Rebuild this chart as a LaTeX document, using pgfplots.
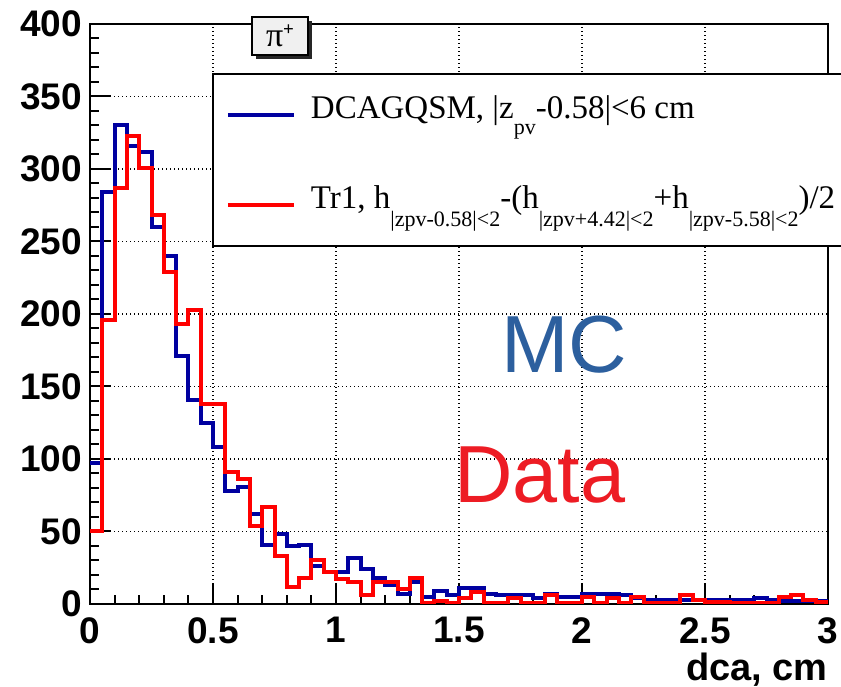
\documentclass[border=0pt]{standalone}
\usepackage{fontspec}
\setmainfont{Liberation Serif}
\setsansfont{Liberation Sans}
\usepackage{pgfplots}
\pgfplotsset{compat=1.18}
\usepackage{pgfplotstable}

\definecolor{histblue}{RGB}{0,0,160}
\definecolor{histred}{RGB}{255,0,0}
\definecolor{mcblue}{RGB}{44,95,158}
\definecolor{datared}{RGB}{237,28,36}

\pgfplotstableread{
x blue red
0.00 97 50
0.05 284 196
0.10 330 287
0.15 316 323
0.20 312 301
0.25 260 268
0.30 240 229
0.35 171 193
0.40 141 203
0.45 125 138
0.50 108 138
0.55 78 91
0.60 81 86
0.65 62 54
0.70 41 67
0.75 48 33
0.80 40 12
0.85 41 18
0.90 26 30
0.95 22 22
1.00 22 17
1.05 32 15
1.10 24 6
1.15 18 15
1.20 13 15
1.25 7 10
1.30 15 18
1.35 5 1
1.40 9 2
1.45 6 1
1.50 11 4
1.55 11 8
1.60 7 1
1.65 6 1
1.70 6 4
1.75 6 1
1.80 4 1
1.85 7 6
1.90 5 1
1.95 5 1
2.00 7 5
2.05 7 0.5
2.10 7 4
2.15 6 0.5
2.20 4 5
2.25 3 0.5
2.30 3 0.5
2.35 3 0.5
2.40 3 6.5
2.45 3 2.5
2.50 3 1.5
2.55 3 1.5
2.60 2.5 1
2.65 2.5 1
2.70 4 1
2.75 3 1
2.80 2 4.5
2.85 2 6.5
2.90 2 3
2.95 2 1.5
3.00 2 1.5
}\histdata

\newcommand{\lsub}[2]{\raisebox{-#1}{\fontsize{22}{22}\selectfont #2}}

\begin{document}
\begin{tikzpicture}[x=1pt,y=1pt]
\useasboundingbox (0,0) rectangle (841,687);
\begin{axis}[
  at={(90pt,83pt)}, anchor=south west, scale only axis,
  width=738pt, height=580pt,
  xmin=0, xmax=3, ymin=0, ymax=400,
  xtick={0,0.5,1,1.5,2,2.5,3}, ytick={0,50,...,400},
  minor x tick num=4, minor y tick num=4,
  tick pos=left, tick align=inside,
  major tick length=21pt, minor tick length=9pt,
  axis line style={line width=2pt},
  tick style={black, line width=2pt},
  grid=major,
  major grid style={black, line width=1.3pt, dash pattern=on 1.3pt off 2.7pt},
  ticklabel style={font=\sffamily\bfseries\fontsize{37}{37}\selectfont, inner sep=0pt},
  /pgf/number format/assume math mode=true,
  yticklabel style={anchor=east, xshift=-8pt},
  xticklabel style={anchor=north, yshift=-13pt},
  xlabel={dca, cm},
  xlabel style={at={(rel axis cs:1,0)}, anchor=north east, inner sep=0pt, yshift=-49pt,
    font=\sffamily\bfseries\fontsize{38}{38}\selectfont},
  legend cell align=left,
  legend image code/.code={\draw[#1, line width=4pt] (0pt,0pt) -- (66pt,0pt);},
  legend style={at={(rel axis cs:0.1653,0.9155)}, anchor=north west, draw=black,
    line width=2pt, fill=white, inner xsep=13pt, inner ysep=18pt,
    row sep=44pt, column sep=15pt,
    font=\fontsize{33}{33}\selectfont,
    nodes={inner sep=0pt, text height=26pt, text depth=20pt}},
]
\addplot[const plot mark left, histblue, line width=4pt] table[x=x, y=blue] {\histdata};
\addlegendentry{DCAGQSM, |z\lsub{16pt}{pv}-0.58|<6 cm}
\addplot[const plot mark left, histred, line width=4pt] table[x=x, y=red] {\histdata};
\addlegendentry{Tr1, h\lsub{18pt}{|zpv-0.58|<2}-(h\lsub{18pt}{|zpv+4.42|<2}+h\lsub{18pt}{|zpv-5.58|<2})/2}
\end{axis}
\fill[black!85] (256,628) rectangle (312,666);
\draw[line width=1.5pt, fill=gray!12] (252,632) rectangle (308,670);
\node[inner sep=0pt] at (280,651) {\fontsize{34}{34}\selectfont π\raisebox{11pt}{\fontsize{19}{19}\selectfont\bfseries +}};
\node[font=\sffamily\fontsize{81}{81}\selectfont, text=mcblue, anchor=base, inner sep=0pt] at (564.5,314) {MC};
\node[font=\sffamily\fontsize{81}{81}\selectfont, text=datared, anchor=base, inner sep=0pt] at (540,184) {Data};
\end{tikzpicture}
\end{document}
